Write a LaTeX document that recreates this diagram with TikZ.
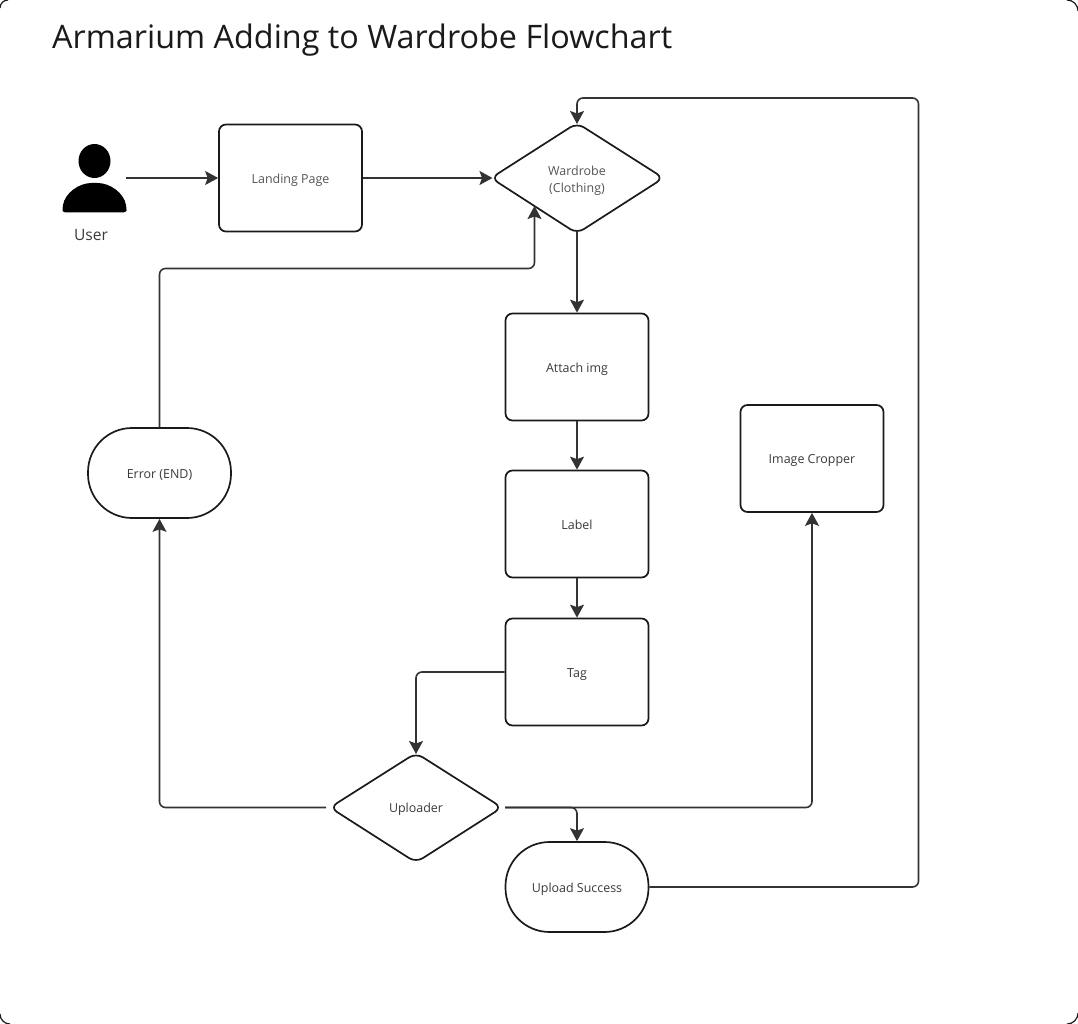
\documentclass[tikz,border=0pt]{standalone}
\usepackage{fontspec}
\setmainfont{Open Sans}
\usetikzlibrary{arrows.meta,shapes.geometric}
\definecolor{ink}{HTML}{1A1A1A}
\definecolor{wire}{HTML}{333333}
\definecolor{lbl}{HTML}{3A3A3A}
\definecolor{lblsoft}{HTML}{555555}
\tikzset{
  px/.style={x=1pt,y=-1pt},
  labelfont/.style={text=lbl,font=\fontsize{12.45}{17}\selectfont,align=center},
  boxnode/.style={draw=ink,line width=1.7pt,rounded corners=7pt,fill=white,minimum width=143pt,minimum height=107pt,inner sep=0pt,text height=10.4pt,text depth=0pt,labelfont},
  pillnode/.style={draw=ink,line width=1.7pt,rounded corners=44pt,fill=white,minimum width=143pt,minimum height=90pt,inner sep=0pt,text height=10.4pt,text depth=0pt,labelfont},
  txt/.style={inner sep=0pt,labelfont},
  wirepath/.style={draw=wire,line width=1.6pt,rounded corners=6pt,-{Stealth[length=13pt,width=14pt,inset=2.5pt]}},
  diamondline/.style={draw=ink,line width=1.7pt,rounded corners=8pt,fill=white}
}
\begin{document}
\begin{tikzpicture}[px]
\useasboundingbox (0,0) rectangle (1078,1024);
% page frame corners
\draw[ink,line width=1.2pt] (1067,0) arc[start angle=-90,end angle=0,radius=11];
\draw[ink,line width=1.2pt] (1078,1013) arc[start angle=0,end angle=90,radius=11];
\draw[ink,line width=1.2pt] (8,0) arc[start angle=-90,end angle=-180,radius=8];
\draw[ink,line width=1.2pt] (0,1014) arc[start angle=180,end angle=90,radius=10];
\node[anchor=base west,inner sep=0pt,text=ink,font=\fontsize{32.35}{38}\selectfont] (title) at (52,48.5) {Armarium Adding to Wardrobe Flowchart};
% user icon
\fill[black] (94.5,161) circle[x radius=16,y radius=17];
\fill[black,rounded corners=3pt] (62.5,212.5) -- (62.5,208) .. controls (65,193) and (79,183) .. (94.5,183) .. controls (110,183) and (124,193) .. (126.5,208) -- (126.5,212.5) -- cycle;
\coordinate (userout) at (126,178);
\node[inner sep=0pt,text=lbl,font=\fontsize{15.6}{18}\selectfont] (user) at (91,235) {User};
% boxes
\node[boxnode,text=lblsoft] (landing) at (290.5,178) {Landing Page};
\node[boxnode] (attach) at (577,367) {Attach img};
\node[boxnode] (label) at (577,524) {Label};
\node[boxnode] (tag) at (577,672) {Tag};
\node[boxnode] (crop) at (812,458.5) {Image Cropper};
\node[pillnode] (error) at (159.5,473) {Error (END)};
\node[pillnode] (success) at (577,887) {Upload Success};
% diamonds
\coordinate (wt) at (577,124);
\coordinate (wb) at (577,232);
\coordinate (wl) at (492.5,178);
\draw[diamondline] (577,123) -- (663.5,178) -- (577,233.5) -- (491,178) -- cycle;
\node[txt,text=lblsoft] (wardrobe) at (577,180.5) {Wardrobe\\(Clothing)};
\coordinate (ut) at (416,754);
\draw[diamondline] (416,753) -- (502,807.5) -- (416,862.5) -- (330,807.5) -- cycle;
\node[txt] (uploader) at (416,809.5) {Uploader};
% connectors
\coordinate (upr) at (505,807.5);
\coordinate (upl) at (326,807.5);
\coordinate (wfl) at (534.5,206);
\coordinate (errturn) at (534.5,268.5);
\coordinate (farb) at (918.5,887);
\coordinate (fart) at (918.5,98);
\coordinate (topt) at (577,98);
\draw[wirepath] (userout) -- (landing.west);
\draw[wirepath] (landing.east) -- (wl);
\draw[wirepath] (wb) -- (attach.north);
\draw[wirepath] (attach.south) -- (label.north);
\draw[wirepath] (label.south) -- (tag.north);
\draw[wirepath] (tag.west) -| (ut);
\draw[wirepath] (upl) -| (error.south);
\draw[wirepath] (error.north) |- (errturn) -- (wfl);
\draw[wirepath] (upr) -| (crop.south);
\draw[wirepath] (upr) -| (success.north);
\draw[wirepath] (success.east) -- (farb) -- (fart) -- (topt) -- (wt);
\end{tikzpicture}
\end{document}
